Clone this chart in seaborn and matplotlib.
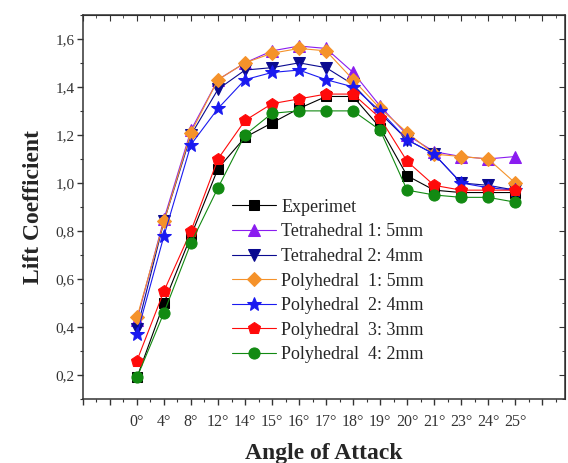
import numpy as np
import pandas as pd
import matplotlib; matplotlib.use("Agg")
import matplotlib.pyplot as plt
from matplotlib.ticker import MultipleLocator, FuncFormatter
import seaborn as sns

# ─── Data ───────────────────────────────────────────────────
angles = ["0°", "4°", "8°", "12°", "14°", "15°", "16°", "17°",
          "18°", "19°", "20°", "21°", "23°", "24°", "25°"]

experiment = [0.19, 0.50, 0.78, 1.06, 1.19, 1.25, 1.31, 1.36, 1.36, 1.23, 1.03, 0.97, 0.96, 0.96, 0.96]
tetra_5mm  = [0.43, 0.85, 1.22, 1.43, 1.50, 1.55, 1.57, 1.56, 1.46, 1.32, 1.20, 1.13, 1.11, 1.10, 1.11]
tetra_4mm  = [0.39, 0.84, 1.20, 1.39, 1.47, 1.48, 1.50, 1.48, 1.41, 1.29, 1.18, 1.12, 1.00, 0.99, 0.97]
poly_5mm   = [0.44, 0.84, 1.21, 1.43, 1.50, 1.54, 1.56, 1.55, 1.43, 1.31, 1.21, 1.12, 1.11, 1.10, 1.00]
poly_4mm   = [0.37, 0.78, 1.16, 1.31, 1.43, 1.46, 1.47, 1.43, 1.40, 1.30, 1.18, 1.12, 1.00, 0.98, 0.97]
poly_3mm   = [0.26, 0.55, 0.80, 1.10, 1.26, 1.33, 1.35, 1.37, 1.37, 1.27, 1.09, 0.99, 0.97, 0.97, 0.97]
poly_2mm   = [0.19, 0.46, 0.75, 0.98, 1.20, 1.29, 1.30, 1.30, 1.30, 1.22, 0.97, 0.95, 0.94, 0.94, 0.92]

series_names = ["Experimet", "Tetrahedral 1: 5mm", "Tetrahedral 2: 4mm",
                "Polyhedral  1: 5mm", "Polyhedral  2: 4mm",
                "Polyhedral  3: 3mm", "Polyhedral  4: 2mm"]
series_vals = [experiment, tetra_5mm, tetra_4mm, poly_5mm, poly_4mm, poly_3mm, poly_2mm]
colors  = ["#000000", "#8A1CF0", "#0A0A90", "#F5922A", "#1A1AF0", "#FF0A0A", "#128A12"]
markers = ["s", "^", "v", "D", "*", "p", "o"]
msizes  = [7, 8, 8, 7, 10, 9, 8]

pos = np.arange(len(angles))
df = pd.concat([pd.DataFrame({"pos": pos, "angle": angles, "cl": v, "series": n})
                for n, v in zip(series_names, series_vals)], ignore_index=True)

# ─── Plot ───────────────────────────────────────────────────
sns.set_style("ticks")
plt.rcParams["font.family"] = ["Liberation Serif", "DejaVu Serif"]

fig, ax = plt.subplots(figsize=(5.68, 4.63), dpi=100)
fig.subplots_adjust(left=0.146, right=0.995, top=0.968, bottom=0.138)

for n, c, m, s in zip(series_names, colors, markers, msizes):
    sns.lineplot(data=df[df.series == n], x="pos", y="cl", ax=ax, color=c,
                 marker=m, markersize=s, markeredgecolor=c, linewidth=0.8,
                 label=n, errorbar=None)

ax.set_xlim(-2, 15.85)
ax.set_ylim(0.1, 1.7)

ax.xaxis.set_major_locator(MultipleLocator(1))
ax.xaxis.set_minor_locator(MultipleLocator(0.5))
ax.xaxis.set_major_formatter(FuncFormatter(
    lambda v, p: angles[int(round(v))] if 0 <= round(v) < len(angles) else ""))
ax.yaxis.set_major_locator(MultipleLocator(0.2))
ax.yaxis.set_minor_locator(MultipleLocator(0.1))
ax.yaxis.set_major_formatter(FuncFormatter(lambda v, p: f"{v:.1f}".replace(".", ",")))

ax.tick_params(which="major", direction="out", length=4, width=1, labelsize=11,
               colors="#333333", pad=2)
ax.tick_params(axis="x", which="major", pad=7, labelsize=11.5)
ax.tick_params(which="minor", direction="out", length=2.5, width=0.8, colors="#333333")
for sp in ax.spines.values():
    sp.set_linewidth(1.1)
    sp.set_color("#333333")

secx = ax.secondary_xaxis("top")
secx.xaxis.set_major_locator(MultipleLocator(1))
secx.xaxis.set_minor_locator(MultipleLocator(0.5))
secx.tick_params(which="both", direction="in", labeltop=False, colors="#333333")
secx.tick_params(which="major", length=4)
secx.tick_params(which="minor", length=2.5)
secy = ax.secondary_yaxis("right")
secy.yaxis.set_major_locator(MultipleLocator(0.2))
secy.yaxis.set_minor_locator(MultipleLocator(0.1))
secy.tick_params(which="both", direction="in", labelright=False, colors="#333333")
secy.tick_params(which="major", length=4)
secy.tick_params(which="minor", length=2.5)

ax.set_xlabel("Angle of Attack", fontsize=17, fontweight="bold", labelpad=9)
ax.set_ylabel("Lift Coefficient", fontsize=17, fontweight="bold", labelpad=8)

ax.legend(loc="upper left", bbox_to_anchor=(0.295, 0.54), frameon=False,
          fontsize=13, labelspacing=0.42, handlelength=2.4, handletextpad=0.3,
          borderaxespad=0)

plt.savefig("out.png", dpi=100)
